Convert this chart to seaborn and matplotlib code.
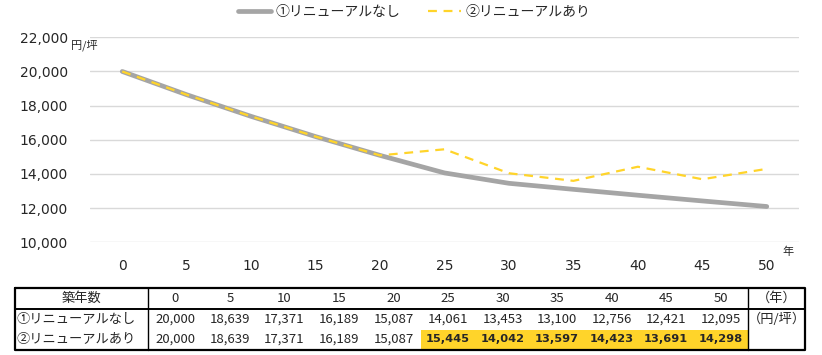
import numpy as np
import pandas as pd
import matplotlib
matplotlib.use("Agg")
import matplotlib.pyplot as plt
import seaborn as sns
from matplotlib.patches import Rectangle

# データ
years = [0, 5, 10, 15, 20, 25, 30, 35, 40, 45, 50]
no_renewal = [20000, 18639, 17371, 16189, 15087, 14061, 13453, 13100, 12756, 12421, 12095]
renewal = [20000, 18639, 17371, 16189, 15087, 15445, 14042, 13597, 14423, 13691, 14298]
series_names = ["①リニューアルなし", "②リニューアルあり"]
y_ticks = [10000, 12000, 14000, 16000, 18000, 20000, 22000]

sns.set_style("white")
plt.rcParams['font.family'] = ['Noto Sans CJK JP', 'DejaVu Sans']
plt.rcParams['axes.unicode_minus'] = False

GRAY = "#A5A5A5"
YELLOW = "#FFD42A"

df = pd.DataFrame({"年": years * 2,
                   "価格": no_renewal + renewal,
                   "系列": [series_names[0]] * len(years) + [series_names[1]] * len(years)})

fig = plt.figure(figsize=(8.22, 3.55), dpi=100)
W, H = 822, 355
ax = fig.add_axes([90 / W, 1 - 242.3 / H, 709 / W, 205 / H])

sns.lineplot(data=df[df["系列"] == series_names[0]], x="年", y="価格", ax=ax,
             color=GRAY, linewidth=3.4, label=series_names[0], legend=False)
sns.lineplot(data=df[df["系列"] == series_names[1]], x="年", y="価格", ax=ax,
             color=YELLOW, linewidth=1.6, linestyle=(0, (4, 3)),
             label=series_names[1], legend=False)

ax.set_xlim(-2.5, 52.5)
ax.set_ylim(10000, 22000)
ax.set_yticks(y_ticks)
ax.set_yticklabels([f"{v:,}" for v in y_ticks], family=['DejaVu Sans'], fontsize=10)
ax.set_xticks(years)
ax.set_xticklabels([str(y) for y in years], family=['DejaVu Sans'], fontsize=10)
ax.tick_params(axis='y', length=0, pad=16)
ax.tick_params(axis='x', length=0, pad=12)
ax.grid(axis='y', color="#D9D9D9", linewidth=1)
ax.grid(axis='x', visible=False)
for s in ax.spines.values():
    s.set_visible(False)
ax.set_xlabel("")
ax.set_ylabel("")

# 単位
fig.text(71 / W, 1 - 45 / H, "円/坪", fontsize=8, ha='left', va='center')
fig.text(782 / W, 1 - 252 / H, "年", fontsize=8, ha='left', va='center')

# 凡例
handles, labels = ax.get_legend_handles_labels()
fig.legend(handles, labels, loc='center', bbox_to_anchor=(414 / W, 1 - 12 / H),
           ncol=2, frameon=False, fontsize=10, handlelength=2.4,
           columnspacing=2.0, handletextpad=0.3)

# 表
tab = fig.add_axes([0, 0, 1, 1])
tab.set_xlim(0, W)
tab.set_ylim(H, 0)
tab.axis('off')

left, right = 15, 805
lab_r = 148
unit_l = 748
cw = (unit_l - lab_r) / len(years)
top, hdr_b, bot = 288, 309, 350
row_y = [298.5, 319, 339.5]

# ハイライト
for i, (a, b) in enumerate(zip(no_renewal, renewal)):
    if a != b:
        tab.add_patch(Rectangle((lab_r + i * cw, 329.5), cw, 19, color=YELLOW, lw=0))

tab.plot([left, right, right, left, left], [top, top, bot, bot, top], color='black', lw=1.6)
tab.plot([left, right], [hdr_b, hdr_b], color='black', lw=1.4)
tab.plot([lab_r, lab_r], [top, bot], color='black', lw=1.0)
tab.plot([unit_l, unit_l], [top, bot], color='black', lw=1.0)

tfs = 9.5
tab.text((left + lab_r) / 2, row_y[0], "築年数", fontsize=tfs, ha='center', va='center')
tab.text(left + 2, row_y[1], series_names[0], fontsize=tfs, ha='left', va='center')
tab.text(left + 2, row_y[2], series_names[1], fontsize=tfs, ha='left', va='center')
for i, y in enumerate(years):
    cx = lab_r + (i + 0.5) * cw
    tab.text(cx, row_y[0], str(y), fontsize=tfs, ha='center', va='center')
    tab.text(cx, row_y[1], f"{no_renewal[i]:,}", fontsize=tfs, ha='center', va='center')
    if renewal[i] != no_renewal[i]:
        tab.text(cx, row_y[2], f"{renewal[i]:,}", fontsize=8.2, ha='center', va='center',
                 fontweight='bold', family=['DejaVu Sans'])
    else:
        tab.text(cx, row_y[2], f"{renewal[i]:,}", fontsize=tfs, ha='center', va='center')
ux = (unit_l + right) / 2
tab.text(ux, row_y[0], "（年）", fontsize=tfs, ha='center', va='center')
tab.text(ux, row_y[1], "（円/坪）", fontsize=tfs, ha='center', va='center')

fig.savefig("out.png", dpi=100)
